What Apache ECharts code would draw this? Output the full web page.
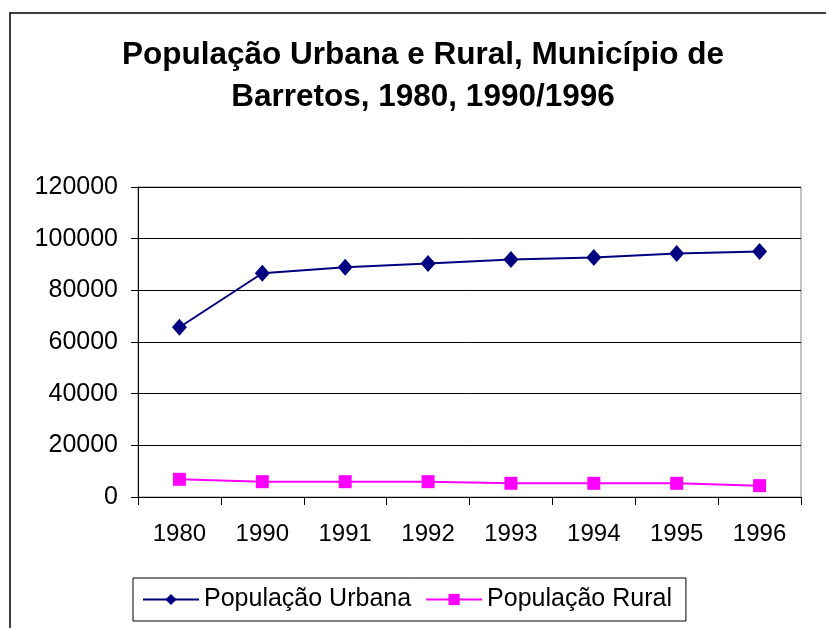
<!DOCTYPE html>
<html>
<head>
<meta charset="utf-8">
<script src="https://cdn.jsdelivr.net/npm/echarts@6/dist/echarts.min.js"></script>
<style>
html,body{margin:0;padding:0;background:#fff;}
#chart{width:826px;height:628px;}
</style>
</head>
<body>
<div id="chart"></div>
<script>
var anos = ['1980','1990','1991','1992','1993','1994','1995','1996'];
var urbana = [65700, 86600, 88900, 90400, 91900, 92700, 94300, 95000];
var rural = [6850, 5930, 5930, 5930, 5300, 5300, 5300, 4400];

var fonte = 'Liberation Sans, Arial, sans-serif';
var chart = echarts.init(document.getElementById('chart'));
var option = {
    animation: false,
    backgroundColor: '#fff',
    title: {
        text: 'População Urbana e Rural, Município de\nBarretos, 1980, 1990/1996',
        left: 423,
        top: 34,
        padding: 0,
        textAlign: 'center',
        textStyle: {
            fontFamily: fonte,
            fontSize: 31.5,
            fontWeight: 'bold',
            color: '#000',
            lineHeight: 42
        }
    },
    graphic: [{
        type: 'rect',
        shape: {x: 10, y: 13, width: 830, height: 630},
        style: {fill: null, stroke: '#000', lineWidth: 1.5},
        silent: true
    }],
    legend: {
        left: 133,
        top: 578,
        padding: [9, 14, 9, 9],
        borderColor: '#000',
        borderWidth: 1,
        itemGap: 14,
        itemWidth: 56,
        itemHeight: 14,
        textStyle: {fontFamily: fonte, fontSize: 25, color: '#000'},
        data: ['População Urbana', 'População Rural']
    },
    grid: {
        left: 138,
        right: 25,
        top: 187,
        bottom: 131,
        show: true,
        borderColor: '#888',
        borderWidth: 1
    },
    xAxis: {
        type: 'category',
        data: anos,
        boundaryGap: true,
        axisLine: {lineStyle: {color: '#000', width: 1}},
        axisTick: {show: true, length: 8, interval: 0, lineStyle: {color: '#000'}},
        axisLabel: {fontFamily: fonte, fontSize: 24, color: '#000', margin: 25}
    },
    yAxis: {
        type: 'value',
        min: 0,
        max: 120000,
        interval: 20000,
        axisLine: {show: true, lineStyle: {color: '#000', width: 1}},
        axisTick: {show: true, length: 7, lineStyle: {color: '#000'}},
        axisLabel: {
            fontFamily: fonte, fontSize: 25, color: '#000', margin: 20,
            formatter: function (v) { return String(v); }
        },
        splitLine: {lineStyle: {color: '#000', width: 1}}
    },
    series: [{
        name: 'População Urbana',
        type: 'line',
        data: urbana,
        symbol: 'diamond',
        symbolSize: [15, 17],
        itemStyle: {color: '#000080'},
        lineStyle: {color: '#000080', width: 2}
    }, {
        name: 'População Rural',
        type: 'line',
        data: rural,
        symbol: 'rect',
        symbolSize: 13,
        itemStyle: {color: '#ff00ff'},
        lineStyle: {color: '#ff00ff', width: 2}
    }]
};
chart.setOption(option);
</script>
</body>
</html>
